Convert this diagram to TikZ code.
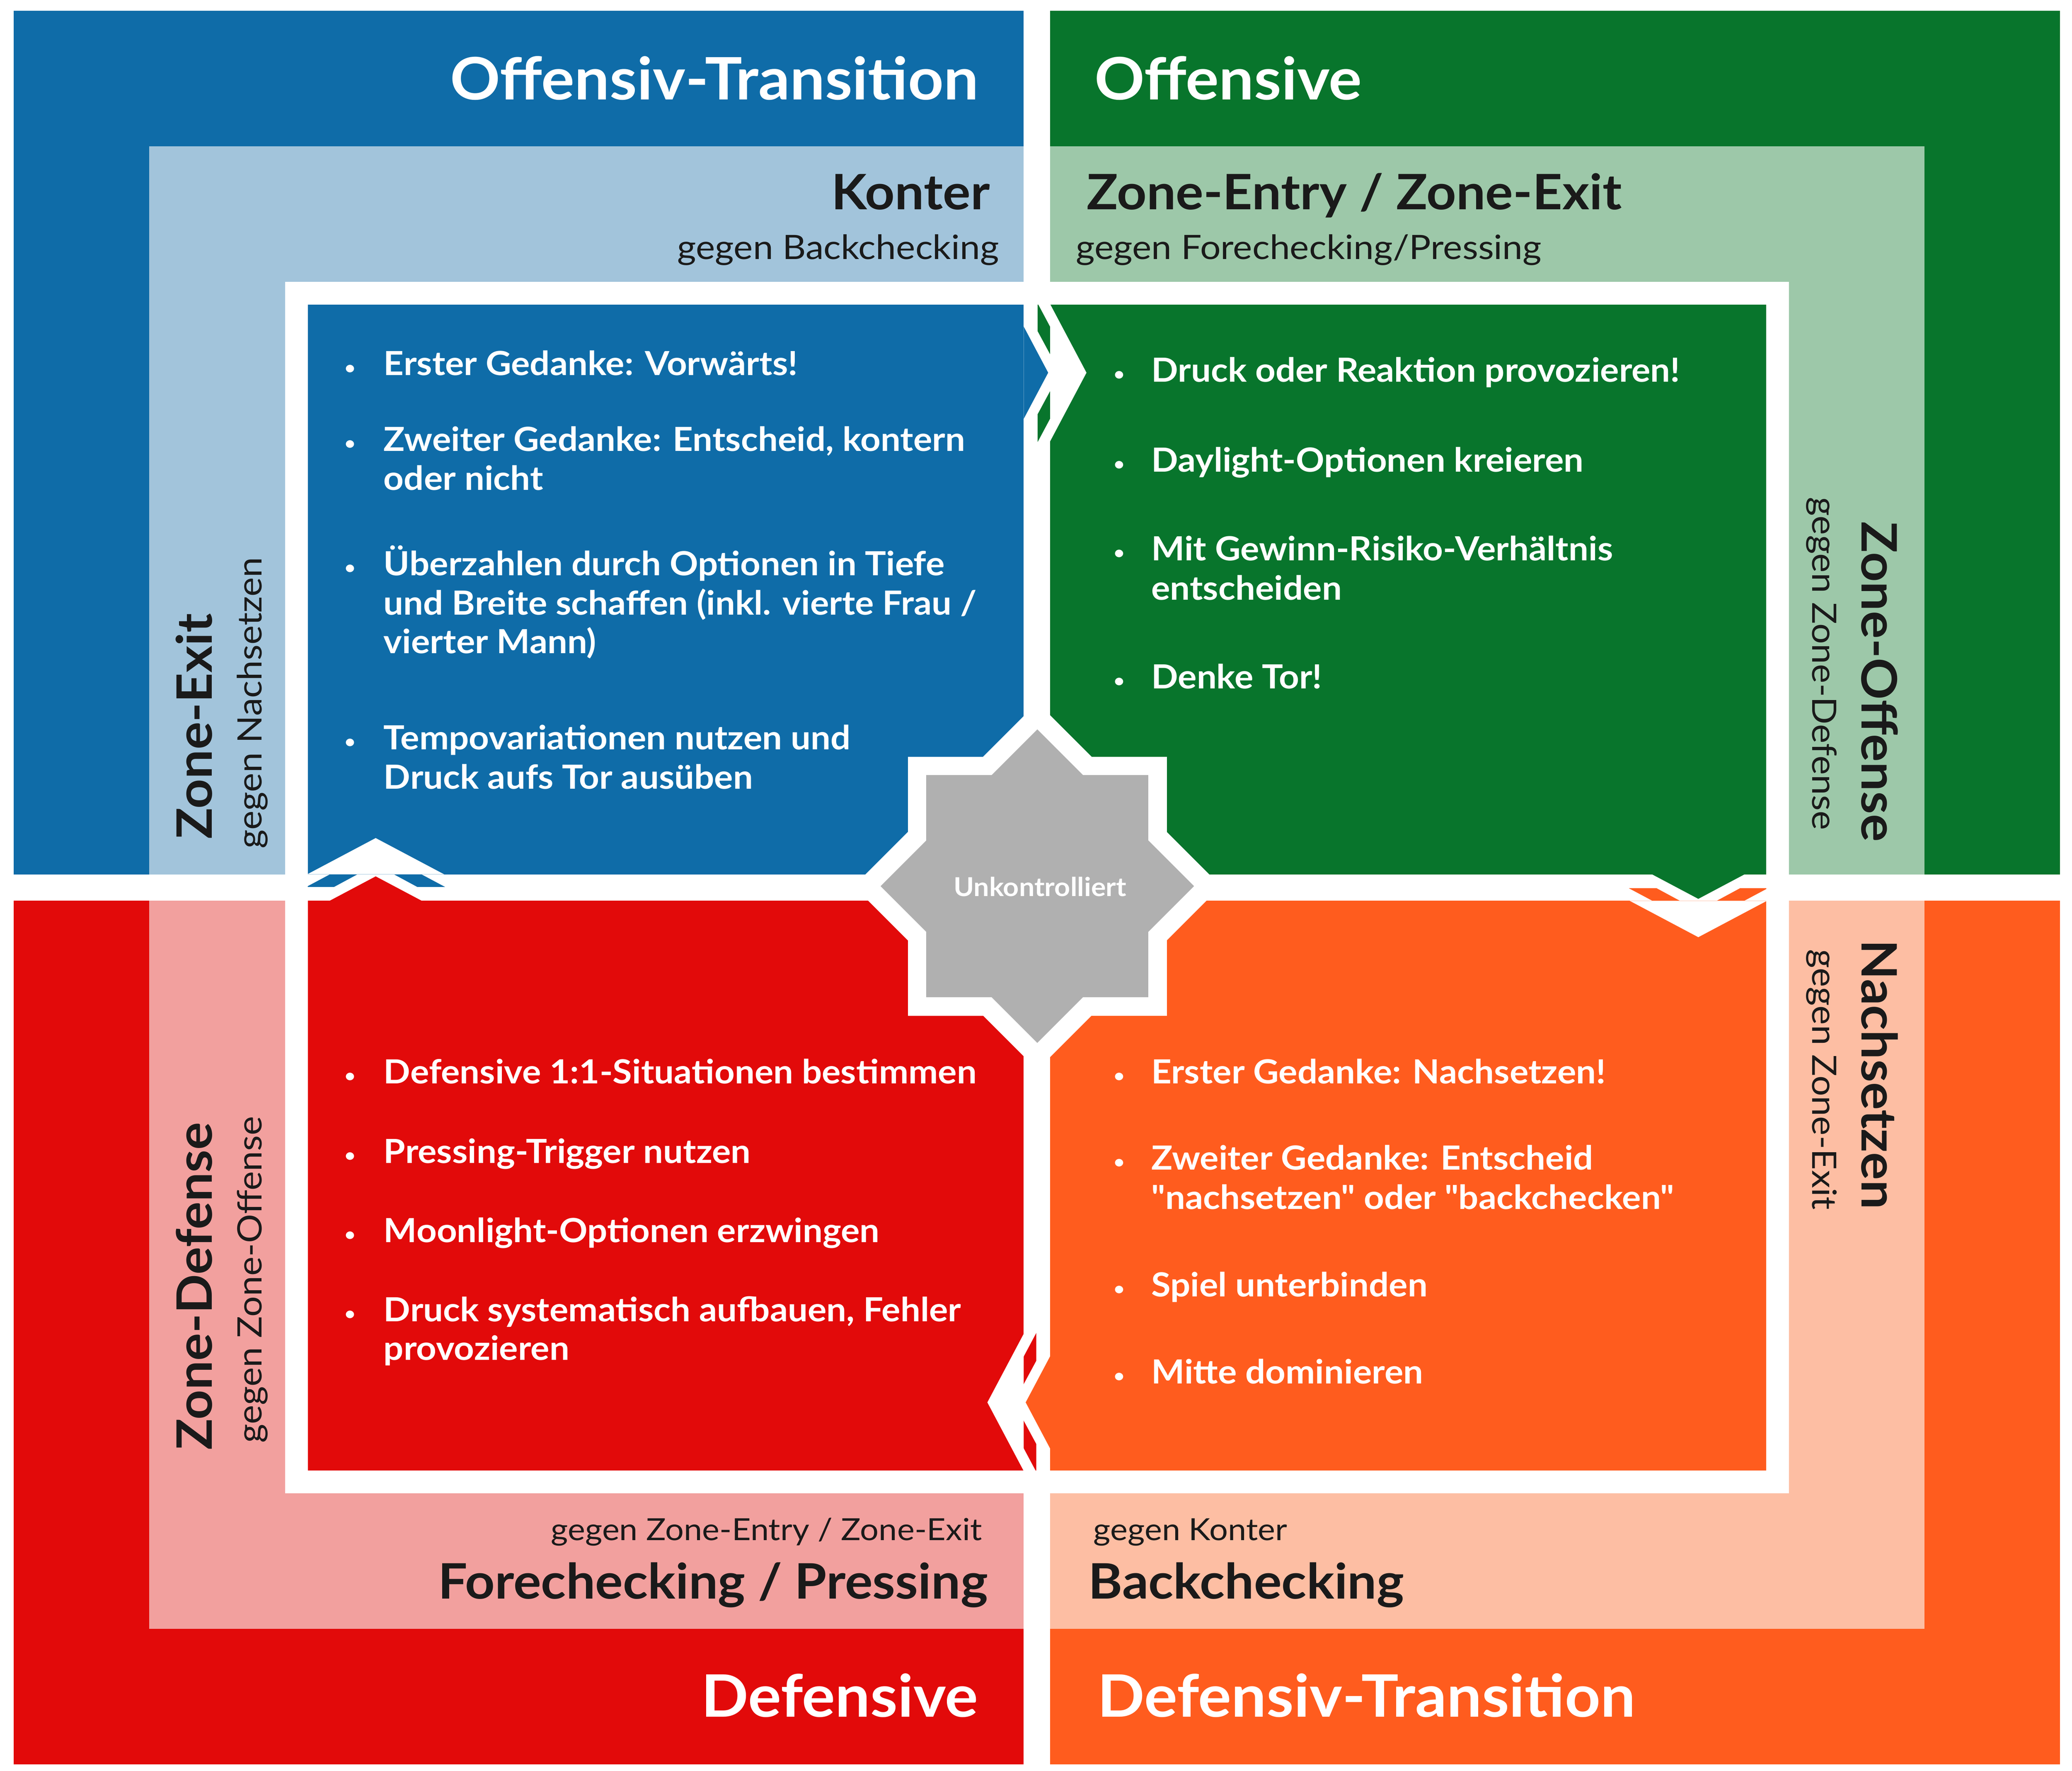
\documentclass[tikz,border=0pt]{standalone}
\usepackage{fontspec}
\setmainfont{Lato}[Ligatures=TeXOff, UprightFeatures={FakeStretch=1.08}, BoldFeatures={FakeStretch=1.06}]
\usepackage{tikz}
\pgfdeclarelayer{edgelayer}
\pgfdeclarelayer{nodelayer}
\pgfsetlayers{edgelayer,nodelayer,main}
\definecolor{dblue}{HTML}{0F6CA8}
\definecolor{lblue}{HTML}{A2C4DB}
\definecolor{dgreen}{HTML}{08752C}
\definecolor{lgreen}{HTML}{9DC8A9}
\definecolor{dred}{HTML}{E20A0A}
\definecolor{lred}{HTML}{F2A09E}
\definecolor{dorange}{HTML}{FF5C1E}
\definecolor{lorange}{HTML}{FDBEA3}
\definecolor{stargrey}{HTML}{B0B0B0}
\definecolor{ink}{HTML}{1A1A1A}
\tikzstyle{title}=[font=\fontsize{31.5}{36}\selectfont\bfseries, text=white, inner sep=0pt]
\tikzstyle{heading}=[font=\fontsize{26.3}{30}\selectfont\bfseries, text=ink, inner sep=0pt]
\tikzstyle{against}=[font=\fontsize{18.1}{22}\selectfont, text=ink, inner sep=0pt]
\tikzstyle{againstlow}=[font=\fontsize{16.4}{20}\selectfont, text=ink, inner sep=0pt]
\tikzstyle{item}=[font=\fontsize{17.9}{21}\selectfont\bfseries, text=white, inner sep=0pt, anchor=base west]
\tikzstyle{bulletmark}=[font=\fontsize{11}{13}\selectfont, text=white, inner sep=0pt, anchor=base]
\tikzstyle{centrelabel}=[font=\fontsize{14}{16}\selectfont\bfseries, text=white, inner sep=0pt]
% chevron between two cards: centre, direction, colour of source, colour of target
\newcommand{\zonechevron}[4]{%
  \begin{scope}[shift={#1}, rotate=#2]
    \fill [#3] (-10,-34.9) -- (8.5,0) -- (-10,34.9) -- cycle;
    \fill [#4] (0.5,-52.5) -- (28.5,0) -- (0.5,52.5) -- (0.5,31.5) -- (17.5,0) -- (0.5,-31.5) -- cycle;
    \fill [white] (10,-51.9) -- (37.5,0) -- (10,51.9) -- cycle;
  \end{scope}}

\begin{document}
\begin{tikzpicture}[x=0.025cm, y=-0.025cm]
            \useasboundingbox (0,0) rectangle (1568,1339.8);
            \begin{pgfonlayer}{edgelayer}
                % outer quadrants
                \fill [dblue] (10.5,8.2) rectangle (774.7,661.6);
                \fill [dgreen] (794.7,8.2) rectangle (1558.9,661.6);
                \fill [dred] (10.5,681.6) rectangle (774.7,1335);
                \fill [dorange] (794.7,681.6) rectangle (1558.9,1335);
                % light bands
                \fill [lblue] (113,110.8) rectangle (774.7,661.6);
                \fill [lgreen] (794.7,110.8) rectangle (1456.3,661.6);
                \fill [lred] (113,681.6) rectangle (774.7,1232.4);
                \fill [lorange] (794.7,681.6) rectangle (1456.3,1232.4);
                % white frame and cards
                \fill [white] (215.8,213.4) rectangle (1353.7,1130);
                \fill [dblue] (232.9,230.5) rectangle (774.7,661.6);
                \fill [dgreen] (794.7,230.5) rectangle (1336.7,661.6);
                \fill [dred] (232.9,681.6) rectangle (774.7,1112.6);
                \fill [dorange] (794.7,681.6) rectangle (1336.7,1112.6);
                % chevrons
                \begin{scope}
                    \clip (232.9,230.5) rectangle (1336.7,1112.6);
                    \zonechevron{(784.7,282)}{0}{dblue}{dgreen}
                    \zonechevron{(1285.2,671.6)}{-90}{dgreen}{dorange}
                    \zonechevron{(784.7,1061.1)}{180}{dorange}{dred}
                    \zonechevron{(284.3,671.6)}{90}{dred}{dblue}
                \end{scope}
                % star
                \fill [white] (687,572.5) rectangle (883,768.5);
                \fill [white] (785,531.5) -- (924,670.5) -- (785,809.5) -- (646,670.5) -- cycle;
                \fill [stargrey] (701,586.5) rectangle (869,754.5);
                \fill [stargrey] (785,551.9) -- (903.6,670.5) -- (785,789.1) -- (666.4,670.5) -- cycle;
            \end{pgfonlayer}
            \begin{pgfonlayer}{nodelayer}
                \node [style=centrelabel] (unk) at (787,671) {Unkontrolliert};

                \node [style=title, anchor=base east] (offtrans) at (740.8,75.3) {Offensiv-Transition};
                \node [style=title, anchor=base west] (off) at (828,75.3) {Offensive};
                \node [style=title, anchor=base east] (def) at (740.5,1299.2) {Defensive};
                \node [style=title, anchor=base west] (deftrans) at (830.2,1299.2) {Defensiv-Transition};

                \node [style=heading, anchor=base east] (konter) at (749.3,158.5) {Konter};
                \node [style=heading, anchor=base west] (entry) at (822,158.5) {Zone-Entry / Zone-Exit};
                \node [style=heading, anchor=base east] (forecheck) at (747.8,1209.6) {Forechecking / Pressing};
                \node [style=heading, anchor=base west] (backcheck) at (823.4,1209.6) {Backchecking};

                \node [style=against, anchor=base east] (gkonter) at (756.3,196) {gegen Backchecking};
                \node [style=against, anchor=base west] (gentry) at (814,196) {gegen Forechecking/Pressing};
                \node [style=againstlow, anchor=base east] (gforecheck) at (743.3,1165.4) {gegen Zone-Entry / Zone-Exit};
                \node [style=againstlow, anchor=base west] (gbackcheck) at (827.3,1165.4) {gegen Konter};

                \node [style=heading, rotate=90, anchor=base west] (zexit) at (160.4,635.1) {Zone-Exit};
                \node [style=against, rotate=90, anchor=base west] (gzexit) at (198.1,642.3) {gegen Nachsetzen};
                \node [style=heading, rotate=90, anchor=base west] (zdef) at (160.4,1097.5) {Zone-Defense};
                \node [style=against, rotate=90, anchor=base west] (gzdef) at (198.1,1092.1) {gegen Zone-Offense};
                \node [style=heading, rotate=-90, anchor=base west] (zoff) at (1408.9,394.5) {Zone-Offense};
                \node [style=against, rotate=-90, anchor=base west] (gzoff) at (1371.4,376) {gegen Zone-Defense};
                \node [style=heading, rotate=-90, anchor=base west] (nach) at (1408.9,710.7) {Nachsetzen};
                \node [style=against, rotate=-90, anchor=base west] (gnach) at (1371.4,718.1) {gegen Zone-Exit};

                % offensive transition card
                \node [style=bulletmark] (ot1b) at (264.9,283.5) {\textbullet};
                \node [style=item] (ot1) at (290.1,284.1) {Erster Gedanke: Vorwärts!};
                \node [style=bulletmark] (ot2b) at (264.9,340.6) {\textbullet};
                \node [style=item] (ot2) at (290.1,341.2) {Zweiter Gedanke: Entscheid, kontern};
                \node [style=item] (ot2x) at (290.1,370.7) {oder nicht};
                \node [style=bulletmark] (ot3b) at (264.9,434.7) {\textbullet};
                \node [style=item] (ot3) at (290.1,435.3) {Überzahlen durch Optionen in Tiefe};
                \node [style=item] (ot3x) at (290.1,465.3) {und Breite schaffen (inkl. vierte Frau /};
                \node [style=item] (ot3y) at (290.1,494.5) {vierter Mann)};
                \node [style=bulletmark] (ot4b) at (264.9,566.4) {\textbullet};
                \node [style=item] (ot4) at (290.1,567) {Tempovariationen nutzen und};
                \node [style=item] (ot4x) at (290.1,597) {Druck aufs Tor ausüben};

                % offensive card
                \node [style=bulletmark] (of1b) at (847,288.4) {\textbullet};
                \node [style=item] (of1) at (871,289) {Druck oder Reaktion provozieren!};
                \node [style=bulletmark] (of2b) at (847,356.4) {\textbullet};
                \node [style=item] (of2) at (871,357) {Daylight-Optionen kreieren};
                \node [style=bulletmark] (of3b) at (847,423.4) {\textbullet};
                \node [style=item] (of3) at (871,424) {Mit Gewinn-Risiko-Verhältnis};
                \node [style=item] (of3x) at (871,454) {entscheiden};
                \node [style=bulletmark] (of4b) at (847,520.4) {\textbullet};
                \node [style=item] (of4) at (871,521) {Denke Tor!};

                % defensive card
                \node [style=bulletmark] (de1b) at (264.9,819.4) {\textbullet};
                \node [style=item] (de1) at (290.1,820) {Defensive 1:1-Situationen bestimmen};
                \node [style=bulletmark] (de2b) at (264.9,879.4) {\textbullet};
                \node [style=item] (de2) at (290.1,880) {Pressing-Trigger nutzen};
                \node [style=bulletmark] (de3b) at (264.9,939.4) {\textbullet};
                \node [style=item] (de3) at (290.1,940) {Moonlight-Optionen erzwingen};
                \node [style=bulletmark] (de4b) at (264.9,999.4) {\textbullet};
                \node [style=item] (de4) at (290.1,1000) {Druck systematisch aufbauen, Fehler};
                \node [style=item] (de4x) at (290.1,1029) {provozieren};

                % defensive transition card
                \node [style=bulletmark] (dt1b) at (847,819.4) {\textbullet};
                \node [style=item] (dt1) at (871,820) {Erster Gedanke: Nachsetzen!};
                \node [style=bulletmark] (dt2b) at (847,884.4) {\textbullet};
                \node [style=item] (dt2) at (871,885) {Zweiter Gedanke: Entscheid};
                \node [style=item] (dt2x) at (871,915) {"nachsetzen" oder "backchecken"};
                \node [style=bulletmark] (dt3b) at (847,980.4) {\textbullet};
                \node [style=item] (dt3) at (871,981) {Spiel unterbinden};
                \node [style=bulletmark] (dt4b) at (847,1046.4) {\textbullet};
                \node [style=item] (dt4) at (871,1047) {Mitte dominieren};
            \end{pgfonlayer}
        \end{tikzpicture}
\end{document}
